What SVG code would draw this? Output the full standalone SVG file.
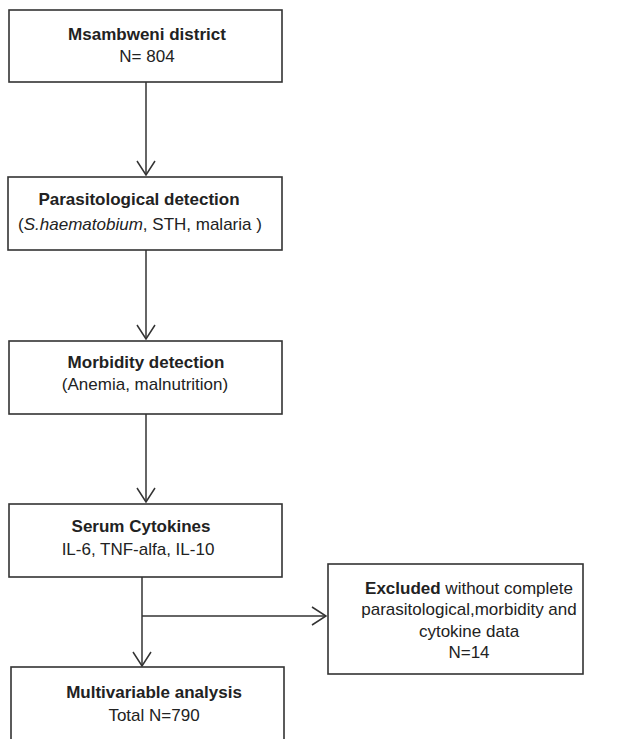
<svg xmlns="http://www.w3.org/2000/svg" width="639" height="739" viewBox="0 0 639 739">
<style>
.box{fill:#fff;stroke:#333;stroke-width:1.6}
.t{font-family:"Liberation Sans",Arial,sans-serif;font-size:17px;fill:#222;text-anchor:middle}
.b{font-weight:bold}
.c{fill:none;stroke:#333;stroke-width:1.5}
</style>
<defs>
<marker id="ah" viewBox="0 0 16 20" refX="15" refY="10" markerWidth="16" markerHeight="20" markerUnits="userSpaceOnUse" orient="auto">
<path d="M1,1 L15,10 L1,19" fill="none" stroke="#333" stroke-width="1.5"/>
</marker>
</defs>
<rect width="639" height="739" fill="#fff"/>
<g id="connectors">
<line class="c" x1="146" y1="82" x2="146" y2="175" marker-end="url(#ah)"/>
<line class="c" x1="146" y1="250" x2="146" y2="339" marker-end="url(#ah)"/>
<line class="c" x1="146" y1="414" x2="146" y2="502" marker-end="url(#ah)"/>
<line class="c" x1="142" y1="577" x2="142" y2="666" marker-end="url(#ah)"/>
<line class="c" x1="142" y1="616" x2="326" y2="616" marker-end="url(#ah)"/>
</g>
<g id="n1">
<rect class="box" x="9" y="10" width="273" height="72"/>
<text class="t b" x="147" y="40">Msambweni district</text>
<text class="t" x="147" y="62">N= 804</text>
</g>
<g id="n2">
<rect class="box" x="8" y="177" width="274" height="73"/>
<text class="t b" x="139" y="205">Parasitological detection</text>
<text class="t" x="140" y="230">(<tspan font-style="italic">S.haematobium</tspan>, STH, malaria )</text>
</g>
<g id="n3">
<rect class="box" x="9" y="341" width="273" height="73"/>
<text class="t b" x="146" y="368">Morbidity detection</text>
<text class="t" x="145" y="390">(Anemia, malnutrition)</text>
</g>
<g id="n4">
<rect class="box" x="9" y="504" width="273" height="73"/>
<text class="t b" x="141" y="532">Serum Cytokines</text>
<text class="t" x="138" y="555">IL-6, TNF-alfa, IL-10</text>
</g>
<g id="n5">
<rect class="box" x="11" y="667" width="273" height="100"/>
<text class="t b" x="154" y="698">Multivariable analysis</text>
<text class="t" x="154" y="721">Total N=790</text>
</g>
<g id="n6">
<rect class="box" x="328" y="564" width="255" height="110"/>
<text class="t" x="469" y="594"><tspan font-weight="bold">Excluded</tspan> without complete</text>
<text class="t" x="469" y="615">parasitological,morbidity and</text>
<text class="t" x="469" y="637">cytokine data</text>
<text class="t" x="469" y="658">N=14</text>
</g>
</svg>
